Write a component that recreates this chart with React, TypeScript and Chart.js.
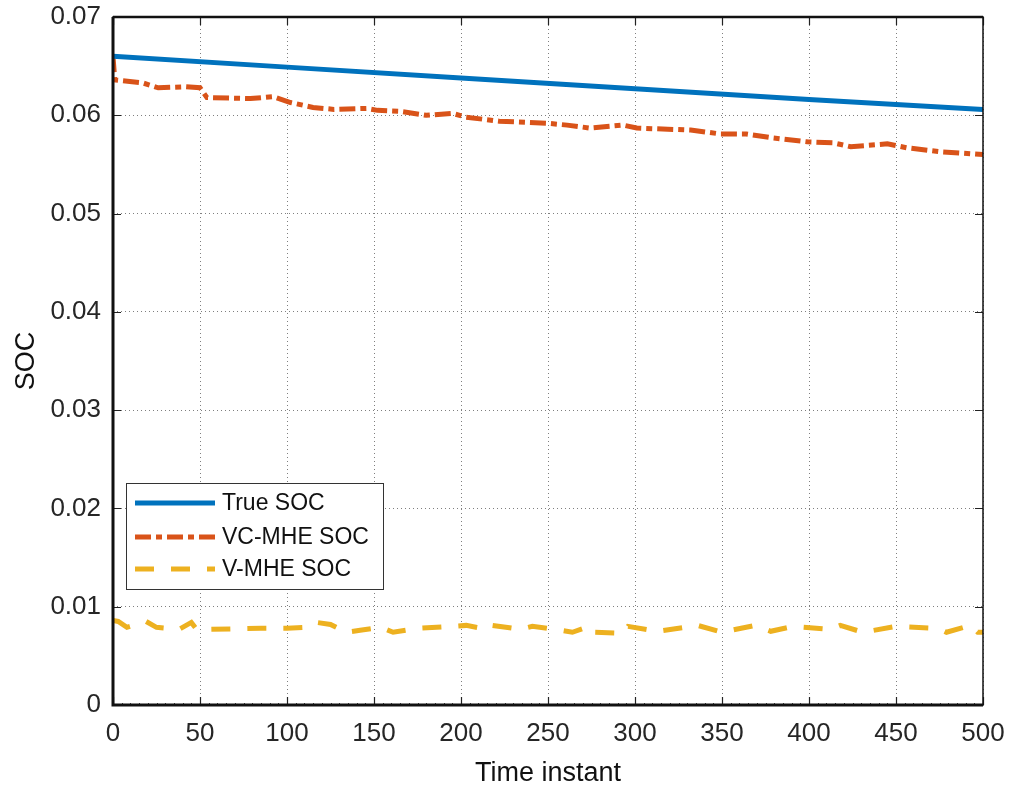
import React, { useEffect, useRef } from "react";
import { Chart, registerables } from "chart.js";

Chart.register(...registerables);

const trueT = [0, 100, 200, 300, 400, 500];
const trueSOC = [0.066, 0.0649, 0.0638, 0.0627, 0.0616, 0.0606];

const vcT = [0, 1, 17, 26, 42, 50, 54, 79, 92, 102, 115, 127, 146, 152, 165, 180, 195, 203, 222, 249, 261, 274, 293, 301, 332, 349, 364, 379, 399, 414, 424, 445, 456, 475, 500];
const vcSOC = [0.066, 0.0636, 0.0633, 0.0628, 0.0629, 0.0628, 0.0618, 0.0617, 0.0619, 0.0613, 0.0608, 0.0606, 0.0607, 0.0605, 0.0604, 0.06, 0.0602, 0.0598, 0.0594, 0.0592, 0.059, 0.0587, 0.059, 0.0587, 0.0585, 0.0581, 0.0581, 0.0577, 0.0573, 0.0572, 0.0568, 0.0571, 0.0567, 0.0563, 0.056];

const vT = [0, 3, 8, 19, 25, 38, 45, 48, 56, 85, 100, 112, 117, 125, 134, 142, 154, 161, 175, 195, 203, 215, 218, 234, 241, 254, 264, 274, 276, 293, 296, 313, 336, 350, 369, 378, 391, 412, 418, 431, 450, 474, 479, 493, 497, 500];
const vSOC = [0.0086, 0.0085, 0.0079, 0.0085, 0.0079, 0.0077, 0.0084, 0.0077, 0.0077, 0.0078, 0.0078, 0.0079, 0.0084, 0.0082, 0.0074, 0.0076, 0.0079, 0.0074, 0.0078, 0.008, 0.0081, 0.0077, 0.0081, 0.0077, 0.008, 0.0077, 0.0074, 0.008, 0.0074, 0.0073, 0.008, 0.0075, 0.0081, 0.0074, 0.0081, 0.0075, 0.008, 0.0077, 0.0081, 0.0074, 0.008, 0.0078, 0.0074, 0.0081, 0.0074, 0.0074];

const xTicks = [0, 50, 100, 150, 200, 250, 300, 350, 400, 450, 500];
const yTicks = [0, 0.01, 0.02, 0.03, 0.04, 0.05, 0.06, 0.07];
const yTickLabels = ["0", "0.01", "0.02", "0.03", "0.04", "0.05", "0.06", "0.07"];
const seriesNames = ["True SOC", "VC-MHE SOC", "V-MHE SOC"];

const FONT = "'Liberation Sans', Arial, sans-serif";
const TEXT = "#262626";

const framePlugin = {
  id: "frame",
  afterDraw(chart: any) {
    const { ctx, chartArea: a, scales } = chart;
    const xs = scales.x;
    const ys = scales.y;
    ctx.save();
    ctx.strokeStyle = "#444";
    ctx.lineWidth = 1;
    for (let t = 0; t <= 500; t += 5) {
      const px = Math.round(xs.getPixelForValue(t)) + 0.5;
      ctx.beginPath();
      ctx.moveTo(px, a.bottom);
      ctx.lineTo(px, a.bottom - 2);
      ctx.stroke();
    }
    ctx.strokeStyle = "#222";
    ctx.lineWidth = 1.2;
    xTicks.forEach((t) => {
      const px = Math.round(xs.getPixelForValue(t)) + 0.5;
      ctx.beginPath();
      ctx.moveTo(px, a.bottom);
      ctx.lineTo(px, a.bottom - 8);
      ctx.moveTo(px, a.top);
      ctx.lineTo(px, a.top + 8);
      ctx.stroke();
    });
    yTicks.forEach((t) => {
      const py = Math.round(ys.getPixelForValue(t)) + 0.5;
      ctx.beginPath();
      ctx.moveTo(a.left, py);
      ctx.lineTo(a.left + 8, py);
      ctx.moveTo(a.right, py);
      ctx.lineTo(a.right - 8, py);
      ctx.stroke();
    });
    ctx.strokeStyle = "#111";
    ctx.lineWidth = 1.5;
    ctx.strokeRect(a.left, a.top, a.right - a.left, a.bottom - a.top);
    ctx.lineWidth = 3;
    ctx.beginPath();
    ctx.moveTo(a.left, a.top);
    ctx.lineTo(a.left, a.bottom);
    ctx.lineTo(a.right, a.bottom);
    ctx.stroke();
    ctx.lineWidth = 2.5;
    ctx.beginPath();
    ctx.moveTo(a.left, a.top);
    ctx.lineTo(a.right, a.top);
    ctx.stroke();

    const bx = 126, by = 483, bw = 257, bh = 106;
    ctx.fillStyle = "#fff";
    ctx.fillRect(bx, by, bw, bh);
    ctx.strokeStyle = "#333";
    ctx.lineWidth = 1;
    ctx.strokeRect(bx + 0.5, by + 0.5, bw, bh);
    const rows = [503, 537, 569];
    chart.data.datasets.forEach((ds: any, i: number) => {
      ctx.save();
      ctx.strokeStyle = ds.borderColor;
      ctx.lineWidth = ds.borderWidth;
      ctx.setLineDash(ds.borderDash || []);
      ctx.beginPath();
      ctx.moveTo(135, rows[i]);
      ctx.lineTo(215, rows[i]);
      ctx.stroke();
      ctx.restore();
      ctx.fillStyle = "#111";
      ctx.font = `23px ${FONT}`;
      ctx.textBaseline = "middle";
      ctx.textAlign = "left";
      ctx.fillText(ds.label, 222, rows[i] + 1);
    });
    ctx.restore();
  },
};

export default function App() {
  const ref = useRef<HTMLCanvasElement>(null);
  useEffect(() => {
    document.body.style.margin = "0";
    const toPts = (xs: number[], ys: number[]) => xs.map((x, i) => ({ x, y: ys[i] }));
    const chart = new Chart(ref.current!, {
      type: "scatter",
      data: {
        datasets: [
          {
            label: seriesNames[0],
            data: toPts(trueT, trueSOC),
            showLine: true,
            borderColor: "#0072BD",
            borderWidth: 5,
            pointRadius: 0,
          },
          {
            label: seriesNames[1],
            data: toPts(vcT, vcSOC),
            showLine: true,
            borderColor: "#D95319",
            borderWidth: 5,
            borderDash: [16, 5, 6, 5],
            pointRadius: 0,
          },
          {
            label: seriesNames[2],
            data: toPts(vT, vSOC),
            showLine: true,
            borderColor: "#EDB120",
            borderWidth: 5,
            borderDash: [19, 17],
            pointRadius: 0,
          },
        ] as any,
      },
      options: {
        animation: false,
        responsive: false,
        maintainAspectRatio: false,
        layout: { padding: { top: 17, right: 28, left: 0, bottom: 0 } },
        plugins: { legend: { display: false }, tooltip: { enabled: false } },
        scales: {
          x: {
            type: "linear",
            min: 0,
            max: 500,
            afterBuildTicks: (s: any) => {
              s.ticks = xTicks.map((v) => ({ value: v }));
            },
            afterFit: (s: any) => {
              s.height = 85;
              s.paddingLeft = 0;
              s.paddingRight = 0;
            },
            ticks: {
              color: TEXT,
              font: { family: FONT, size: 26 },
              padding: 13,
              maxRotation: 0,
              callback: (v: any) => String(v),
            },
            grid: {
              color: "rgba(0,0,0,0.5)",
              lineWidth: 1,
              drawTicks: false,
            },
            border: { display: false, dash: [1, 3] },
            title: {
              display: true,
              text: "Time instant",
              color: "#111",
              font: { family: FONT, size: 27 },
              padding: { top: 0, bottom: 0 },
            },
          },
          y: {
            type: "linear",
            min: 0,
            max: 0.07,
            afterBuildTicks: (s: any) => {
              s.ticks = yTicks.map((v) => ({ value: v }));
            },
            afterFit: (s: any) => {
              s.width = 113;
              s.paddingTop = 0;
              s.paddingBottom = 0;
            },
            ticks: {
              color: TEXT,
              font: { family: FONT, size: 26 },
              padding: 12,
              callback: (v: any) => {
                const i = yTicks.findIndex((t) => Math.abs(t - v) < 1e-9);
                return i >= 0 ? yTickLabels[i] : "";
              },
            },
            grid: {
              color: "rgba(0,0,0,0.5)",
              lineWidth: 1,
              drawTicks: false,
            },
            border: { display: false, dash: [1, 3] },
            title: {
              display: true,
              text: "SOC",
              color: "#111",
              font: { family: FONT, size: 27 },
              padding: { top: 10, bottom: 0 },
            },
          },
        },
      } as any,
      plugins: [framePlugin],
    });
    return () => chart.destroy();
  }, []);
  return (
    <div style={{ width: 1011, height: 790 }}>
      <canvas ref={ref} width={1011} height={790} style={{ display: "block" }} />
    </div>
  );
}
